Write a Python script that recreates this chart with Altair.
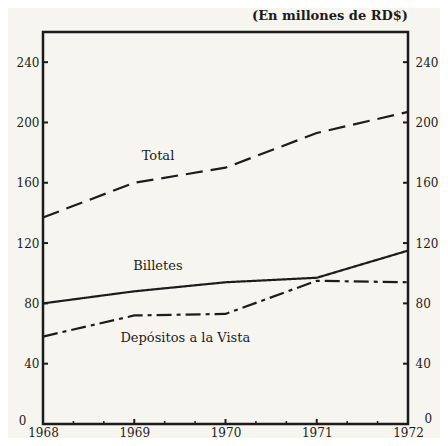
import altair as alt
import pandas as pd

# ---- data ----
years = [1968, 1969, 1970, 1971, 1972]
total = [137, 160, 170, 193, 207]
billetes = [80, 88, 94, 97, 115]
depositos = [58, 72, 73, 95, 94]
series_names = ["Total", "Billetes", "Depósitos a la Vista"]

y_ticks = [0, 40, 80, 120, 160, 200, 240]
x_major_inner = [1969, 1970, 1971]
x_minor = [1968 + 1/3, 1968 + 2/3, 1969 + 1/3, 1969 + 2/3,
           1970 + 1/3, 1970 + 2/3, 1971 + 1/3, 1971 + 2/3]

label_text = ["Total", "Billetes", "Depósitos a la Vista"]
label_x = [1969.26, 1969.26, 1969.56]
label_y = [178, 105, 57]

title_text = "(En millones de RD$)"

FONT = "DejaVu Serif"
INK = "#1c1c1c"
W, H = 365, 392

df = pd.DataFrame({
    "year": years * 3,
    "value": total + billetes + depositos,
    "serie": [series_names[0]] * 5 + [series_names[1]] * 5 + [series_names[2]] * 5,
})
ydf = pd.DataFrame({"v": y_ticks})
xmaj = pd.DataFrame({"t": x_major_inner})
xmin = pd.DataFrame({"t": x_minor})
lab = pd.DataFrame({"x": label_x, "y": label_y, "text": label_text})

xs = alt.Scale(domain=[1968, 1972], nice=False, zero=False)
ys = alt.Scale(domain=[0, 260], nice=False)

axis_common = dict(ticks=False, domain=False, grid=False, title=None,
                   labelFont=FONT, labelFontSize=12, labelColor=INK,
                   labelFlush=False, labelOverlap=False)
x_axis = alt.Axis(values=years, format="d", labelPadding=3, **axis_common)

zero_test = "datum.value == 0"
left_axis = alt.Axis(
    values=y_ticks,
    labelPadding={"condition": {"test": zero_test, "value": 17}, "value": 4},
    labelOffset={"condition": {"test": zero_test, "value": -4}, "value": 0},
    **axis_common)
right_axis = alt.Axis(
    orient="right", values=y_ticks,
    labelPadding={"condition": {"test": zero_test, "value": 16}, "value": 7},
    labelOffset={"condition": {"test": zero_test, "value": -6}, "value": 0},
    **axis_common)

lines = alt.Chart(df).mark_line(strokeWidth=2.2, color=INK).encode(
    x=alt.X("year:Q", scale=xs, axis=x_axis),
    y=alt.Y("value:Q", scale=ys, axis=left_axis),
    strokeDash=alt.StrokeDash("serie:N",
                              scale=alt.Scale(domain=series_names,
                                              range=[[17, 8], [1, 0], [15, 5, 4, 5]]),
                              legend=None),
    detail="serie:N",
)

right_ticks = alt.Chart(ydf).mark_rule(color=INK, strokeWidth=2).encode(
    y=alt.Y("v:Q", scale=ys, axis=right_axis),
    x=alt.value(W), x2=alt.value(W - 5),
)

left_ticks = alt.Chart(ydf).mark_rule(color=INK, strokeWidth=2).encode(
    y=alt.Y("v:Q", scale=ys, axis=None),
    x=alt.value(0), x2=alt.value(5),
)

major_x_ticks = alt.Chart(xmaj).mark_rule(color=INK, strokeWidth=2).encode(
    x=alt.X("t:Q", scale=xs, axis=x_axis),
    y=alt.value(H), y2=alt.value(H - 5),
)

minor_x_ticks = alt.Chart(xmin).mark_rule(color=INK, strokeWidth=1.5).encode(
    x=alt.X("t:Q", scale=xs, axis=x_axis),
    y=alt.value(H), y2=alt.value(H - 3),
)

labels = alt.Chart(lab).mark_text(font=FONT, fontSize=13, color=INK,
                                  align="center", baseline="middle").encode(
    x=alt.X("x:Q", scale=xs, axis=x_axis),
    y=alt.Y("y:Q", scale=ys, axis=None),
    text="text:N",
)

chart = alt.layer(
    lines, right_ticks, left_ticks, major_x_ticks, minor_x_ticks, labels
).resolve_axis(y="independent").properties(
    width=W, height=H,
    autosize=alt.AutoSizeParams(type="none"),
    padding={"left": 35, "top": 24, "right": 32, "bottom": 14},
    title=alt.TitleParams(title_text, anchor="end", frame="group", font=FONT,
                          fontSize=13, fontWeight="bold", color=INK, offset=9),
).configure(background="#f7f5f0").configure_view(stroke=INK, strokeWidth=2.5)

chart.save("out.html", embed_options={"renderer": "svg", "actions": False})
